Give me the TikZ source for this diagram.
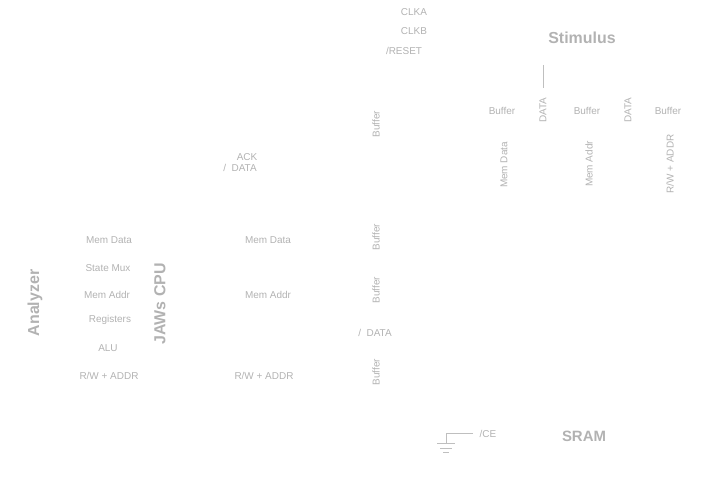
\documentclass[tikz,border=0pt]{standalone}
\usepackage{fontspec}
\setmainfont{Liberation Sans}
\usepackage{xcolor}
\usepackage{tikz}
\usetikzlibrary{calc}

\begin{document}
\begin{tikzpicture}[x=1bp,y=-1bp,
		lbl/.style={text=black!30,font=\fontsize{10}{12}\selectfont,inner sep=0pt},
		vlbl/.style={lbl,rotate=90},
		big/.style={text=black!30,font=\fontsize{16}{19}\selectfont\bfseries,inner sep=0pt},
		wire/.style={draw=black!25,line width=0.8pt}]
			\useasboundingbox (0,0) rectangle (706,477);
			
			% clock and reset inputs
			\node[lbl] (clka) at (414,12) {CLKA};
			\node[lbl] (clkb) at (414,31) {CLKB};
			\node[lbl] (rst) at (404,51) {/RESET};
			
			% stimulus side
			\node[big] (stim) at (582,38) {Stimulus};
			\coordinate (stimtop) at (543,65);
			\coordinate (stimbot) at (543,88);
			\draw[wire] (stimtop)--(stimbot);
			
			\node[lbl] (bufa) at (502,111) {Buffer};
			\node[lbl] (bufb) at (587,111) {Buffer};
			\node[lbl] (bufc) at (668,111) {Buffer};
			\node[vlbl] (data1) at (543,110) {DATA};
			\node[vlbl] (data2) at (628,110) {DATA};
			
			\node[vlbl] (smdata) at (504,165) {Mem Data};
			\node[vlbl] (smaddr) at (589,164) {Mem Addr};
			\node[vlbl] (smrw) at (670,164) {R/W + ADDR};
			
			% buffers on the bus
			\node[vlbl] (bus1) at (376,124) {Buffer};
			\node[vlbl] (bus2) at (376,237) {Buffer};
			\node[vlbl] (bus3) at (376,290) {Buffer};
			\node[vlbl] (bus4) at (376,372) {Buffer};
			
			\node[lbl] (ack) at (247,157) {ACK};
			\node[lbl] (cdata) at (240,168) {/\ \ DATA};
			\node[lbl] (bdata) at (375,333) {/\ \ DATA};
			
			% analyzer
			\node[big,rotate=90] (ana) at (35,303) {Analyzer};
			\node[lbl] (amdata) at (109,240) {Mem Data};
			\node[lbl] (amux) at (108,268) {State Mux};
			\node[lbl] (amaddr) at (107,295) {Mem Addr};
			\node[lbl] (areg) at (110,320) {Registers};
			\node[lbl] (aalu) at (108,348) {ALU};
			\node[lbl] (arw) at (109,376) {R/W + ADDR};
			
			% cpu
			\node[big,rotate=90] (cpu) at (160,304) {JAWs CPU};
			\node[lbl] (cmdata) at (268,240) {Mem Data};
			\node[lbl] (cmaddr) at (268,295) {Mem Addr};
			\node[lbl] (crw) at (264,376) {R/W + ADDR};
			
			% sram with chip enable tied low
			\node[lbl] (ce) at (488,434) {/CE};
			\node[big,font=\fontsize{15}{18}\selectfont\bfseries] (sram) at (584,436) {SRAM};
			\coordinate (cepin) at (473,433);
			\coordinate (gnd) at (446,443);
			\draw[wire] (cepin)-|(gnd);
			\draw[wire] ($(gnd)+(-9,0)$)--($(gnd)+(9,0)$);
			\draw[wire] ($(gnd)+(-6,5)$)--($(gnd)+(6,5)$);
			\draw[wire] ($(gnd)+(-3,9)$)--($(gnd)+(3,9)$);
		\end{tikzpicture}
\end{document}
